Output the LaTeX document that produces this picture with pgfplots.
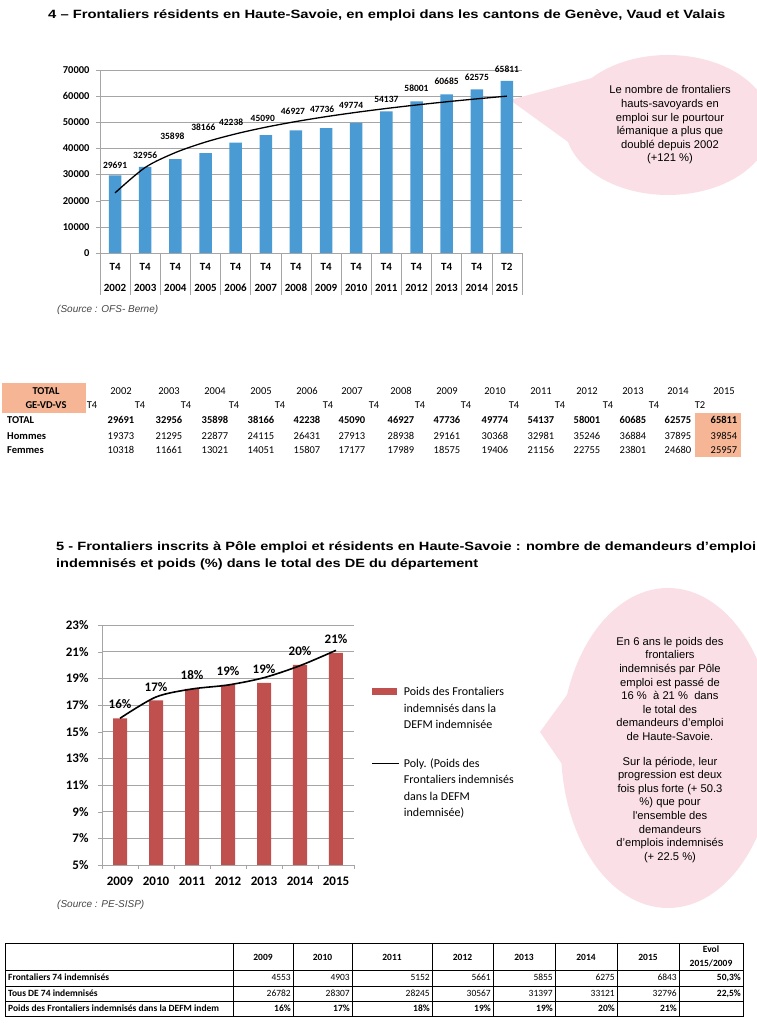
\documentclass[border=0pt]{standalone}
\usepackage{graphicx}
\usepackage{pgfplots}
\pgfplotsset{compat=1.18}
\usepackage{fontspec}
\setmainfont{Carlito}
\newfontfamily\arial{Liberation Sans}
\definecolor{barblue}{RGB}{74,154,212}
\definecolor{barred}{RGB}{192,80,77}
\definecolor{pinkc}{RGB}{250,224,230}
\definecolor{salmon}{RGB}{246,182,150}
\definecolor{gridc}{RGB}{165,165,165}
\definecolor{srcgray}{RGB}{70,70,70}
\newcommand{\fs}[2]{\fontsize{#1bp}{#2bp}\selectfont}

\pgfplotstableread{
x  y
0  29691
1  32956
2  35898
3  38166
4  42238
5  45090
6  46927
7  47736
8  49774
9  54137
10 58001
11 60685
12 62575
13 65811
}\frontaliers

\pgfplotstableread{
x y
0 16.0
1 17.35
2 18.2
3 18.5
4 18.65
5 20.0
6 20.9
}\poids

\begin{document}
\begin{tikzpicture}
\useasboundingbox (0,0) rectangle (757bp,1024bp);
\fill[white] (0,0) rectangle (757bp,1024bp);
\begin{scope}
\clip (0,0) rectangle (757bp,1024bp);

% ---------- callout backgrounds ----------
\begin{scope}[x=1bp,y=-1bp,yshift=1024bp]
  \fill[pinkc] (510,100) -- (592,78) -- (582,152) -- cycle;
  \fill[pinkc] (668,125) ellipse [x radius=103, y radius=70];
  \fill[pinkc] (540,732) -- (596,655) -- (590,805) -- cycle;
  \fill[pinkc] (668,748) ellipse [x radius=107, y radius=160];
\end{scope}

% ---------- chart 4 ----------
\begin{axis}[
  at={(100bp,771bp)}, anchor=south west, scale only axis,
  width=422bp, height=183bp,
  xmin=-0.5, xmax=13.5, ymin=0, ymax=70000,
  axis lines=left, axis line style={-, draw=gridc, line width=0.6bp},
  ymajorgrids, grid style={draw=gridc, line width=0.6bp},
  tick align=outside, major tick length=4bp,
  scaled y ticks=false,
  ytick={0,10000,20000,30000,40000,50000,60000,70000},
  yticklabels={0,10000,20000,30000,40000,50000,60000,70000},
  ytick style={draw=gridc},
  yticklabel style={font=\bfseries\fs{10.5}{12}, xshift=-3bp},
  xtick={0,...,13}, xtick style={draw=none},
  xticklabels={{T4\\[8bp]2002},{T4\\[8bp]2003},{T4\\[8bp]2004},{T4\\[8bp]2005},{T4\\[8bp]2006},{T4\\[8bp]2007},{T4\\[8bp]2008},{T4\\[8bp]2009},{T4\\[8bp]2010},{T4\\[8bp]2011},{T4\\[8bp]2012},{T4\\[8bp]2013},{T4\\[8bp]2014},{T2\\[8bp]2015}},
  xticklabel style={align=center, font=\bfseries\fs{11}{13}, yshift=-3bp},
  clip=false,
]
\addplot[ybar, bar width=12.5bp, fill=barblue, draw=none] table[x=x,y=y] {\frontaliers};
\addplot[smooth, black, line width=1.3bp, no marks] coordinates {
 (0,23000) (1,32720) (2,38400) (3,42430) (4,45560) (5,48120) (6,50280)
 (7,52150) (8,53800) (9,55280) (10,56620) (11,57840) (12,58960) (13,60000)};
\addplot[draw=none, no marks, nodes near coords, point meta=explicit symbolic,
  nodes near coords style={anchor=center, inner sep=0pt, font=\bfseries\fs{9.5}{11}}]
 coordinates {
 (0,33730) [29691] (1,37290) [32956] (1.9,44550) [35898] (2.93,47980) [38166]
 (3.85,49890) [42238] (4.9,51550) [45090] (5.9,54090) [46927] (6.87,54980) [47736]
 (7.83,56640) [49774] (9,58800) [54137] (10,63000) [58001] (11,65550) [60685]
 (12,67070) [62575] (13,70380) [65811]};
\pgfplotsinvokeforeach{-0.5,0.5,1.5,2.5,3.5,4.5,5.5,6.5,7.5,8.5,9.5,10.5,11.5,12.5,13.5}{
  \draw[gridc, line width=0.6bp] (axis cs:#1,0) -- ([yshift=-42bp]axis cs:#1,0);
}
\end{axis}

% ---------- chart 5 ----------
\begin{axis}[
  at={(102bp,159bp)}, anchor=south west, scale only axis,
  width=252bp, height=240bp,
  xmin=-0.5, xmax=6.5, ymin=5, ymax=23,
  axis lines=left, axis line style={-, draw=gridc, line width=0.6bp},
  ymajorgrids, grid style={draw=gridc, line width=0.6bp},
  tick align=outside, major tick length=4bp, tick style={draw=gridc},
  ytick={5,7,9,11,13,15,17,19,21,23},
  yticklabels={5\%,7\%,9\%,11\%,13\%,15\%,17\%,19\%,21\%,23\%},
  yticklabel style={font=\bfseries\fs{13}{15}, xshift=-6bp},
  xtick={-0.5,0.5,1.5,2.5,3.5,4.5,5.5,6.5},
  xticklabels={2009,2010,2011,2012,2013,2014,2015,{}},
  xticklabel style={font=\bfseries\fs{13}{15}, xshift=18bp, yshift=-4bp},
  clip=false,
  legend style={draw=none, fill=none, at={(1.068,0.74)}, anchor=north west,
    inner sep=0pt, font=\fs{12}{16.5}, row sep=61bp, column sep=4bp,
    cells={anchor=base west}, nodes={inner sep=0pt}},
]
\addplot[ybar, bar width=14bp, fill=barred, draw=none,
  legend image code/.code={\fill[barred] (0bp,0.5bp) rectangle (25bp,7.5bp);}]
  table[x=x,y=y] {\poids};
\addlegendentry{\parbox[t]{150bp}{Poids des Frontaliers\\indemnisés dans la\\DEFM indemnisée}}
\addplot[smooth, black, line width=1.6bp, no marks,
  legend image code/.code={\draw[black, line width=1.6bp] (0bp,3.8bp) -- (27bp,3.8bp);}]
  coordinates {(0,16.0) (1,17.6) (2,18.2) (3,18.5) (4,19.05) (5,19.95) (6,21.1)};
\addlegendentry{\parbox[t]{150bp}{Poly. (Poids des\\Frontaliers indemnisés\\dans la DEFM\\indemnisée)}}
\addplot[draw=none, no marks, forget plot, nodes near coords, point meta=explicit symbolic,
  nodes near coords style={anchor=center, inner sep=0pt, font=\bfseries\fs{13}{15}}]
 coordinates {(0,17.05) [16\%] (1,18.33) [17\%] (2,19.25) [18\%] (3,19.58) [19\%]
  (4,19.7) [19\%] (5,21.05) [20\%] (6,21.95) [21\%]};
\end{axis}

% ---------- texts, tables ----------
\begin{scope}[x=1bp,y=-1bp,yshift=1024bp]
  % titles
  \node[anchor=west, inner sep=0pt] at (48,15)
    {\resizebox{677bp}{\height}{\arial\bfseries\fs{12}{14}4 – Frontaliers résidents en Haute-Savoie, en emploi dans les cantons de Genève, Vaud et Valais}};
  \node[anchor=west, inner sep=0pt] at (56,547)
    {\resizebox{700bp}{\height}{\arial\bfseries\fs{12}{14}5 - Frontaliers inscrits à Pôle emploi et résidents en Haute-Savoie : nombre de demandeurs d’emploi}};
  \node[anchor=west, inner sep=0pt] at (56,564)
    {\resizebox{422bp}{\height}{\arial\bfseries\fs{12}{14}indemnisés et poids (\%) dans le total des DE du département}};

  % sources
  \node[anchor=west, inner sep=0pt, text=srcgray, font=\arial\itshape\fs{10}{12}] at (57,310) {(Source : OFS- Berne)};
  \node[anchor=west, inner sep=0pt, text=srcgray, font=\arial\itshape\fs{10}{12}] at (57,905) {(Source : PE-SISP)};

  % callout texts
  \node[align=center, inner sep=0pt, font={\arial\fs{11.2}{13.6}}] at (670,125) {Le nombre de frontaliers\\hauts-savoyards en\\emploi sur le pourtour\\lémanique a plus que\\doublé depuis 2002\\(+121 \%)};
  \node[align=center, inner sep=0pt, font={\arial\fs{11.2}{13.6}}] at (670,750) {En 6 ans le poids des\\frontaliers\\indemnisés par Pôle\\emploi est passé de\\16 \%~ à 21 \%~ dans\\le total des\\demandeurs d’emploi\\de Haute-Savoie.\\[11bp]Sur la période, leur\\progression est deux\\fois plus forte (+ 50.3\\\%) que pour\\l'ensemble des\\demandeurs\\d’emplois indemnisés\\(+ 22.5 \%)};

  % ---------- table 1 ----------
  \fill[salmon] (2,383) rectangle (86,413);
  \fill[salmon] (695,413) rectangle (741,457);
  \node[font=\bfseries\fs{10.5}{12}] at (46,391) {TOTAL};
  \node[font=\bfseries\fs{10.5}{12}] at (46,405) {GE-VD-VS};
  \node[anchor=west, font=\bfseries\fs{10.5}{12}, inner sep=0pt] at (7,420) {TOTAL};
  \node[anchor=west, font=\bfseries\fs{10.5}{12}, inner sep=0pt] at (7,436) {Hommes};
  \node[anchor=west, font=\bfseries\fs{10.5}{12}, inner sep=0pt] at (7,450) {Femmes};
  \foreach \xx/\yr/\tt/\tx/\va/\vb/\vc in {
    121/2002/T4/92/29691/19373/10318,
    169/2003/T4/140/32956/21295/11661,
    215/2004/T4/186/35898/22877/13021,
    261/2005/T4/234/38166/24115/14051,
    307/2006/T4/280/42238/26431/15807,
    352/2007/T4/328/45090/27913/17177,
    401/2008/T4/374/46927/28938/17989,
    447/2009/T4/420/47736/29161/18575,
    495/2010/T4/466/49774/30368/19406,
    541/2011/T4/514/54137/32981/21156,
    587/2012/T4/560/58001/35246/22755,
    633/2013/T4/608/60685/36884/23801,
    678/2014/T4/654/62575/37895/24680,
    724/2015/T2/700/65811/39854/25957}{
    \node[font=\fs{10.5}{12}] at (\xx,391) {\yr};
    \node[font=\fs{10.5}{12}] at (\tx,405) {\tt};
    \node[font=\bfseries\fs{10.5}{12}] at (\xx,420) {\va};
    \node[font=\fs{10.5}{12}] at (\xx,436) {\vb};
    \node[font=\fs{10.5}{12}] at (\xx,450) {\vc};
  }

  % ---------- table 2 ----------
  \draw[black, line width=0.7bp] (5,943) rectangle (743,1016);
  \foreach \yy in {970,986,1001} \draw[black, line width=0.6bp] (5,\yy) -- (743,\yy);
  \foreach \xx in {233,293,352,432,493,555,617,679} \draw[black, line width=0.6bp] (\xx,943) -- (\xx,1016);
  \foreach \l/\r/\h/\a/\b/\c in {
    233/293/2009/4553/26782/16\%,
    293/352/2010/4903/28307/17\%,
    352/432/2011/5152/28245/18\%,
    432/493/2012/5661/30567/19\%,
    493/555/2013/5855/31397/19\%,
    555/617/2014/6275/33121/20\%,
    617/679/2015/6843/32796/21\%}{
    \node[font=\bfseries\fs{9.5}{11}] at ({(\l+\r)/2},957) {\h};
    \node[anchor=base east, inner sep=0pt, font=\fs{9.5}{11}] at (\r-2,981) {\a};
    \node[anchor=base east, inner sep=0pt, font=\fs{9.5}{11}] at (\r-2,996.5) {\b};
    \node[anchor=base east, inner sep=0pt, font=\bfseries\fs{9.5}{11}] at (\r-2,1011.5) {\c};
  }
  \node[font=\bfseries\fs{9.5}{13.5}, align=center, inner sep=0pt] at (711,956.5) {Evol\\2015/2009};
  \node[anchor=base east, inner sep=0pt, font=\bfseries\fs{9.5}{11}] at (741,981) {50,3\%};
  \node[anchor=base east, inner sep=0pt, font=\bfseries\fs{9.5}{11}] at (741,996.5) {22,5\%};
  \node[anchor=base west, inner sep=0pt, font=\bfseries\fs{9.5}{11}] at (8,981) {Frontaliers 74 indemnisés};
  \node[anchor=base west, inner sep=0pt, font=\bfseries\fs{9.5}{11}] at (8,996.5) {Tous DE 74 indemnisés};
  \node[anchor=base west, inner sep=0pt, font=\bfseries\fs{9.5}{11}] at (8,1011.5) {Poids des Frontaliers indemnisés dans la DEFM indem};
\end{scope}
\end{scope}
\end{tikzpicture}
\end{document}
